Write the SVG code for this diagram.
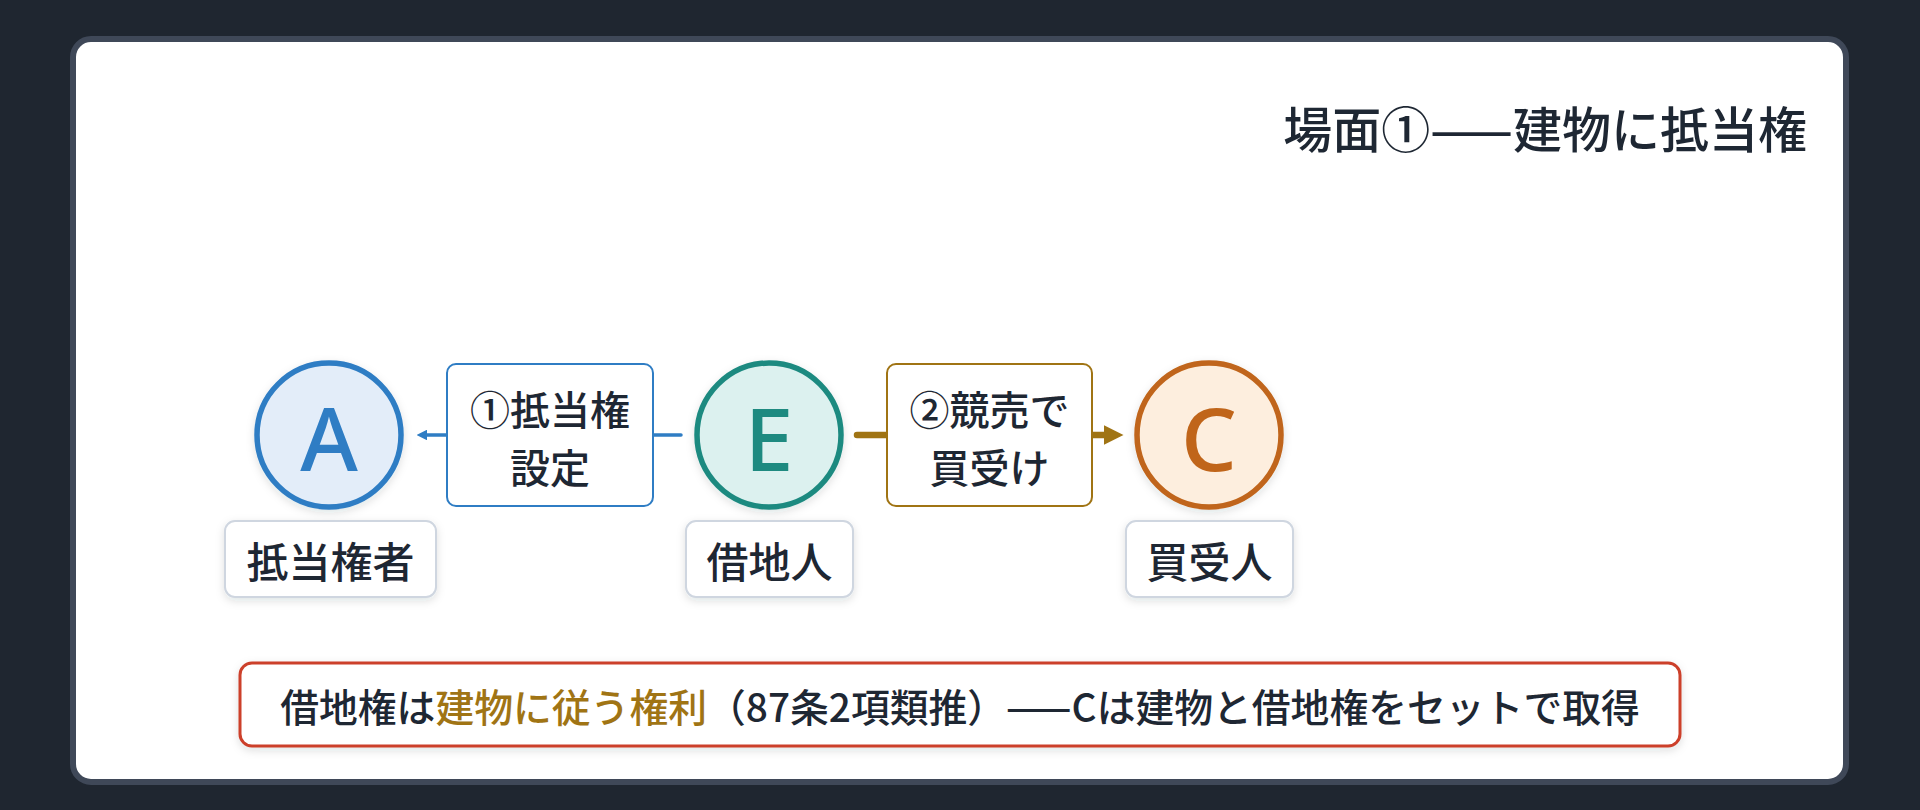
<svg xmlns="http://www.w3.org/2000/svg" width="1920" height="810" viewBox="0 0 1920 810">
<defs>
<style>
.t{font-family:"Noto Sans CJK JP","Noto Sans",sans-serif;fill:#1e2733;font-weight:500}
.letter{font-family:"Noto Sans","Liberation Sans",sans-serif;font-weight:500;font-size:88px;text-anchor:middle;dominant-baseline:central}
.lbl{fill:#ffffff;stroke:#cfd6e0;stroke-width:2}
.lbltext{font-size:42px;text-anchor:middle;dominant-baseline:central}
.etext{font-size:40px;text-anchor:middle;dominant-baseline:central}
</style>
<filter id="sh" x="-20%" y="-20%" width="140%" height="150%">
<feDropShadow dx="0" dy="3" stdDeviation="4" flood-color="#1e2733" flood-opacity="0.13"/>
</filter>
<marker id="arrB" viewBox="0 0 10 10" refX="0" refY="5" markerWidth="3" markerHeight="3" orient="auto" markerUnits="strokeWidth">
<path d="M0,0 L10,5 L0,10 z" fill="#2f7dc4"/>
</marker>
<marker id="arrG" viewBox="0 0 10 10" refX="0" refY="5" markerWidth="3" markerHeight="3" orient="auto" markerUnits="strokeWidth">
<path d="M0,0 L10,5 L0,10 z" fill="#a07414"/>
</marker>
</defs>
<rect x="0" y="0" width="1920" height="810" fill="#1f2630"/>
<rect x="73" y="39" width="1773" height="743" rx="18" fill="#ffffff" stroke="#3f4858" stroke-width="6"/>
<text class="t" x="1807" y="126" font-size="49" font-weight="700" text-anchor="end" dominant-baseline="central">場面①——建物に抵当権</text>

<g id="connectors">
<line x1="681" y1="435" x2="427" y2="435" stroke="#2f7dc4" stroke-width="3.5" stroke-linecap="round" marker-end="url(#arrB)"/>
<line x1="857" y1="435" x2="1104" y2="435" stroke="#a07414" stroke-width="6.5" stroke-linecap="round" marker-end="url(#arrG)"/>
<g id="edge-label-1">
<rect x="447" y="364" width="206" height="142" rx="9" fill="#ffffff" stroke="#2f7dc4" stroke-width="2"/>
<text class="t etext" x="550" y="408">①抵当権</text>
<text class="t etext" x="550" y="466">設定</text>
</g>
<g id="edge-label-2">
<rect x="887" y="364" width="205" height="142" rx="9" fill="#ffffff" stroke="#a07414" stroke-width="2"/>
<text class="t etext" x="989.5" y="408">②競売で</text>
<text class="t etext" x="989.5" y="466">買受け</text>
</g>
</g>

<g id="node-A">
<circle cx="329" cy="435" r="72" fill="#e3edf9" stroke="#2f7dc4" stroke-width="5.5" filter="url(#sh)"/>
<text class="letter" x="329" y="437" fill="#2f7dc4">A</text>
<rect class="lbl" x="225" y="521" width="211" height="76" rx="10" filter="url(#sh)"/>
<text class="t lbltext" x="330.5" y="559">抵当権者</text>
</g>

<g id="node-E">
<circle cx="769" cy="435" r="72" fill="#dcf1ef" stroke="#1e8a80" stroke-width="5.5" filter="url(#sh)"/>
<text class="letter" x="769" y="437" fill="#1e8a80">E</text>
<rect class="lbl" x="686" y="521" width="167" height="76" rx="10" filter="url(#sh)"/>
<text class="t lbltext" x="769.5" y="559">借地人</text>
</g>

<g id="node-C">
<circle cx="1209" cy="435" r="72" fill="#fdeede" stroke="#c0651a" stroke-width="5.5" filter="url(#sh)"/>
<text class="letter" x="1209" y="437" fill="#c0651a">C</text>
<rect class="lbl" x="1126" y="521" width="167" height="76" rx="10" filter="url(#sh)"/>
<text class="t lbltext" x="1209.5" y="559">買受人</text>
</g>

<g id="note">
<rect x="240" y="663" width="1440" height="83" rx="12" fill="#ffffff" stroke="#cc3f2a" stroke-width="3" filter="url(#sh)"/>
<text class="t" x="960" y="705" font-size="38.8" text-anchor="middle" dominant-baseline="central">借地権は<tspan fill="#a07414">建物に従う権利</tspan>（87条2項類推）——Cは建物と借地権をセットで取得</text>
</g>
</svg>
